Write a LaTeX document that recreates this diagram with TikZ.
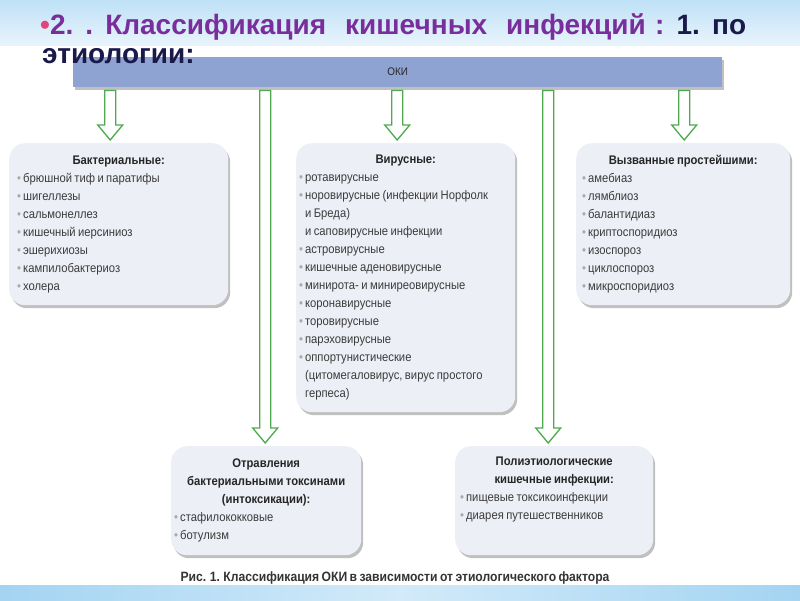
\documentclass[tikz,border=0pt]{standalone}
\usepackage{fontspec}
\setmainfont{Liberation Sans}
\newfontfamily\narrowsans[FakeStretch=0.9]{Liberation Sans}
\usetikzlibrary{positioning,calc,shadows}
\definecolor{topblue}{HTML}{BFE1F7}
\definecolor{topfade}{HTML}{E8F4FC}
\definecolor{botblue}{HTML}{A3D4F2}
\definecolor{botmid}{HTML}{D2EAF9}
\definecolor{barblue}{HTML}{8EA3D1}
\definecolor{boxfill}{HTML}{EDEFF6}
\definecolor{arrowgreen}{HTML}{4FA94F}
\definecolor{titlepurple}{HTML}{7A2E9C}
\definecolor{titlenavy}{HTML}{1A1A4A}
\definecolor{bulletred}{HTML}{E2457A}
\definecolor{itemgray}{HTML}{3C3C3C}
\definecolor{dotgray}{HTML}{A8A8A8}

\newcommand{\boxfont}{\narrowsans\fontsize{12.5}{18}\selectfont}
\newcommand{\capfont}{\narrowsans\bfseries\fontsize{13.5}{16}\selectfont\spaceskip=2.4pt plus 1pt\relax}
\newcommand{\titlefont}{\bfseries\fontsize{28}{32}\selectfont\spaceskip=9.5pt plus 2pt\relax}
\tikzset{
  groupbox/.style={fill=boxfill, rounded corners=16pt,
    drop shadow={shadow xshift=2pt, shadow yshift=-3pt, opacity=0.45, fill=black!55},
    anchor=north west, align=left, inner xsep=5pt, inner ysep=9pt,
    font=\boxfont, text=itemgray,
    execute at begin node={\spaceskip=2.4pt plus 1pt minus 0.5pt\relax}},
  okibar/.style={fill=barblue, anchor=north west, minimum width=649pt, minimum height=30pt,
    drop shadow={shadow xshift=2pt, shadow yshift=-3pt, opacity=0.45, fill=black!55},
    font=\narrowsans\fontsize{11}{13}\selectfont, text=black!85},
  hollow/.style={draw=arrowgreen, line width=1.3pt, fill=white, line join=miter},
  titletext/.style={anchor=base west, inner sep=0, font=\titlefont},
}
\newcommand{\hd}[1]{\makebox[\hsize][c]{\bfseries\color{black!85}#1}\\}
\newcommand{\bul}{\textcolor{dotgray}{\textbullet}\hspace{2pt}}
\newcommand{\cnt}{\hphantom{\textbullet}\hspace{2pt}}
% hollow down arrow: [xshift of tip]{from}{to}
\newcommand{\blockarrow}[3][0pt]{%
  \draw[hollow] let \p1=([xshift=#1]#3.north), \p2=(#2.south) in
    (\x1-5.5pt,\y2-3pt) -- (\x1-5.5pt,\y1+18pt) -- (\x1-12.5pt,\y1+18pt) -- (\x1,\y1+3pt)
    -- (\x1+12.5pt,\y1+18pt) -- (\x1+5.5pt,\y1+18pt) -- (\x1+5.5pt,\y2-3pt) -- cycle;}

\begin{document}
\begin{tikzpicture}[x=1pt, y=-1pt]
  \useasboundingbox (0,0) rectangle (800,600);
  % background bands
  \fill[top color=topblue, bottom color=topfade] (0,0) rectangle (800,45);
  \fill[left color=botblue, right color=botblue, middle color=botmid] (0,585) rectangle (800,600);

  \node[okibar] (oki) at (73,57) {ОКИ};

  \node[titletext] (title1) at (40,34)
    {\textcolor{bulletred}{•}\textcolor{titlepurple}{2. . Классификация~ кишечных~ инфекций : }\textcolor{titlenavy}{1. по}};
  \node[titletext, text=titlenavy] (title2) at (42,63) {этиологии:};

  \node[groupbox, inner xsep=8pt, text width=203pt, minimum height=162pt] (bact) at (9,143) {%
    \hd{Бактериальные:}
    \bul брюшной тиф и паратифы\\
    \bul шигеллезы\\
    \bul сальмонеллез\\
    \bul кишечный иерсиниоз\\
    \bul эшерихиозы\\
    \bul кампилобактериоз\\
    \bul холера};
  \node[groupbox, inner xsep=3pt, text width=213pt, minimum height=269pt] (vir) at (296,143) {%
    \hd{Вирусные:}
    \bul ротавирусные\\
    \bul норовирусные (инфекции Норфолк\\
    \cnt и Бреда)\\
    \cnt и саповирусные инфекции\\
    \bul астровирусные\\
    \bul кишечные аденовирусные\\
    \bul минирота- и минирeовирусные\\
    \bul коронавирусные\\
    \bul торовирусные\\
    \bul парэховирусные\\
    \bul оппортунистические\\
    \cnt (цитомегаловирус, вирус простого\\
    \cnt герпеса)};
  \node[groupbox, inner xsep=6pt, text width=202pt, minimum height=162pt] (prot) at (576,143) {%
    \hd{Вызванные простейшими:}
    \bul амебиаз\\
    \bul лямблиоз\\
    \bul балантидиаз\\
    \bul криптоспоридиоз\\
    \bul изоспороз\\
    \bul циклоспороз\\
    \bul микроспоридиоз};
  \node[groupbox, inner xsep=3pt, text width=184pt, minimum height=109pt] (tox) at (171,446) {%
    \hd{Отравления}
    \hd{бактериальными токсинами}
    \hd{(интоксикации):}
    \bul стафилококковые\\
    \bul ботулизм};
  \node[groupbox, text width=188pt, minimum height=109pt, text depth=80pt] (poly) at (455,446) {%
    \hd{Полиэтиологические}
    \hd{кишечные инфекции:}
    \bul пищевые токсикоинфекции\\
    \bul диарея путешественников};

  \blockarrow[-8.5pt]{oki}{bact}
  \blockarrow[-1pt]{oki}{tox}
  \blockarrow[-8.5pt]{oki}{vir}
  \blockarrow[-6pt]{oki}{poly}
  \blockarrow[1pt]{oki}{prot}

  \node[font=\capfont, text=black!80] (caption) at (395,578)
    {Рис. 1. Классификация ОКИ в зависимости от этиологического фактора};
\end{tikzpicture}
\end{document}
